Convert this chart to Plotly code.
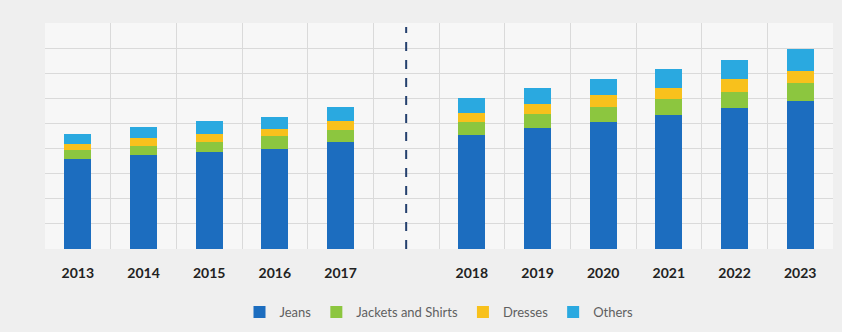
import plotly.graph_objects as go

years = ["2013", "2014", "2015", "2016", "2017", " ", "2018", "2019", "2020", "2021", "2022", "2023"]
jeans = [3.59, 3.75, 3.88, 3.98, 4.27, None, 4.54, 4.81, 5.07, 5.34, 5.61, 5.90]
jackets = [0.36, 0.37, 0.40, 0.52, 0.47, None, 0.51, 0.56, 0.60, 0.64, 0.66, 0.71]
dresses = [0.23, 0.29, 0.31, 0.27, 0.36, None, 0.38, 0.40, 0.45, 0.45, 0.51, 0.46]
others = [0.40, 0.44, 0.49, 0.50, 0.55, None, 0.57, 0.64, 0.66, 0.73, 0.76, 0.89]

series = [
    ("Jeans", jeans, "#1c6dbf"),
    ("Jackets and Shirts", jackets, "#8cc63f"),
    ("Dresses", dresses, "#f8c11c"),
    ("Others", others, "#2aa9e0"),
]

fig = go.Figure()
for name, vals, color in series:
    fig.add_trace(go.Bar(x=years, y=vals, name=name, marker=dict(color=color, line=dict(width=0))))

fig.add_shape(type="line", xref="x", yref="y", x0=5, x1=5, y0=0, y1=8.84,
              line=dict(color="#24406e", width=2, dash="dash"))

fig.update_layout(
    barmode="stack",
    bargap=0.59,
    width=842, height=332,
    margin=dict(l=45, r=9, t=23, b=83, autoexpand=False),
    paper_bgcolor="#efefef",
    plot_bgcolor="#f7f7f7",
    font=dict(family="Lato, Open Sans, sans-serif"),
    showlegend=True,
    legend=dict(orientation="h", x=0.5, xanchor="center", yref="container", y=0.06, yanchor="middle",
                font=dict(size=13, color="#5f5f5f"), bgcolor="rgba(0,0,0,0)",
                traceorder="normal", itemwidth=30),
    xaxis=dict(type="category", tickson="boundaries", showgrid=True, gridcolor="#dadada",
               gridwidth=1, ticks="", showline=False, zeroline=False, range=[-0.5, 11.5],
               ticklabelstandoff=14,
               tickfont=dict(size=14, color="#222222", family="Lato, sans-serif", weight="bold")),
    yaxis=dict(range=[0, 9], dtick=1, showgrid=True, gridcolor="#dadada", gridwidth=1,
               showticklabels=False, zeroline=False, showline=False, ticks=""),
)

fig.write_html("out.html")
